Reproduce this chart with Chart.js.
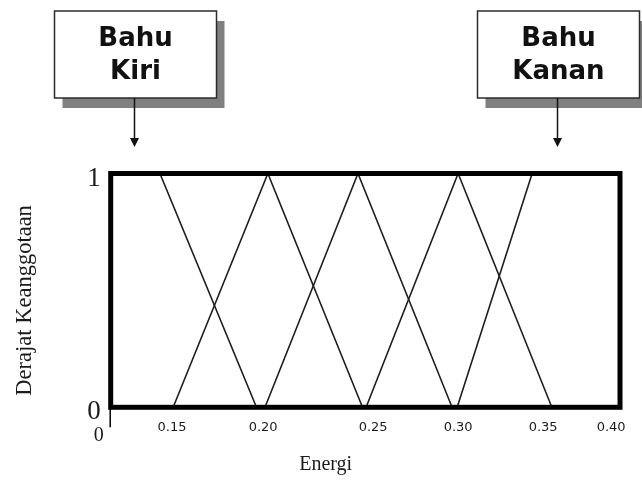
<!DOCTYPE html>
<html>
<head>
<meta charset="utf-8">
<script src="https://cdn.jsdelivr.net/npm/chart.js@4.4.0/dist/chart.umd.min.js"></script>
<style>
  html, body { margin: 0; padding: 0; background: #fff; }
</style>
</head>
<body>
<canvas id="fuzzyChart" width="642" height="480"></canvas>
<script>
// Energi axis limits (left and right edge of the frame)
const energiMin = 0.117;
const energiMax = 0.386;

// membership sets: energi points and membership degree
const kiriX = [0.117, 0.143, 0.194];
const kiriY = [1, 1, 0];
const set2X = [0.150, 0.200, 0.250];
const set2Y = [0, 1, 0];
const set3X = [0.1985, 0.2476, 0.2973];
const set3Y = [0, 1, 0];
const set4X = [0.2519, 0.3005, 0.350];
const set4Y = [0, 1, 0];
const kananX = [0.300, 0.3396, 0.386];
const kananY = [0, 1, 1];

// tick labels under the axis and where they sit
const tickValues = [0.1494, 0.1975, 0.2556, 0.3005, 0.3454, 0.3813];
const tickLabels = ['0.15', '0.20', '0.25', '0.30', '0.35', '0.40'];
const yTickValues = [0, 1];
const yTickLabels = ['0', '1'];

// shoulder callouts
const calloutText = [['Bahu', 'Kiri'], ['Bahu', 'Kanan']];
const calloutAt = [0.1293, 0.3528];

const serif = '"Liberation Serif", "Times New Roman", serif';
const sans = '"DejaVu Sans", Verdana, sans-serif';

const toPoints = (xs, ys) => xs.map((x, i) => ({ x: x, y: ys[i] }));

// frame, titles and callout boxes
const decorPlugin = {
    id: 'decor',
    afterDatasetsDraw(chart) {
        const { ctx, chartArea: a, scales: { x } } = chart;
        ctx.save();

        // thick frame
        ctx.strokeStyle = '#000';
        ctx.lineWidth = 5;
        ctx.strokeRect(a.left, a.top, a.right - a.left, a.bottom - a.top);

        // small stub of the y axis below the frame
        ctx.lineWidth = 1.5;
        ctx.beginPath();
        ctx.moveTo(a.left - 0.5, a.bottom);
        ctx.lineTo(a.left - 0.5, a.bottom + 20);
        ctx.stroke();

        // origin 0 on the energi axis
        ctx.fillStyle = '#1b1b1b';
        ctx.font = '20px ' + serif;
        ctx.textAlign = 'center';
        ctx.textBaseline = 'middle';
        ctx.fillText('0', a.left - 12, a.bottom + 28);

        // axis titles
        ctx.fillText('Energi', a.left + 215, 465);
        ctx.save();
        ctx.translate(25, (a.top + a.bottom) / 2 + 10);
        ctx.rotate(-Math.PI / 2);
        ctx.font = '22.5px ' + serif;
        ctx.fillText('Derajat Keanggotaan', 0, 0);
        ctx.restore();

        // callouts
        calloutAt.forEach((v, i) => {
            const ax = Math.round(x.getPixelForValue(v)) + 0.5;
            const w = 162, h = 87, top = 11;
            const left = Math.round(ax - w / 2) + 0.5;

            ctx.fillStyle = '#808080';
            ctx.fillRect(left + 8, top + 10, w, h);
            ctx.fillStyle = '#fff';
            ctx.fillRect(left, top, w, h);
            ctx.strokeStyle = '#2b2b2b';
            ctx.lineWidth = 1.5;
            ctx.strokeRect(left, top, w, h);

            ctx.fillStyle = '#111';
            ctx.font = 'bold 26px ' + sans;
            ctx.textAlign = 'center';
            ctx.textBaseline = 'middle';
            ctx.fillText(calloutText[i][0], left + w / 2, top + 28);
            ctx.fillText(calloutText[i][1], left + w / 2, top + 61);

            // arrow
            ctx.strokeStyle = '#111';
            ctx.lineWidth = 1.5;
            ctx.beginPath();
            ctx.moveTo(ax, top + h);
            ctx.lineTo(ax, 140);
            ctx.stroke();
            ctx.beginPath();
            ctx.moveTo(ax - 4.5, 138);
            ctx.lineTo(ax + 4.5, 138);
            ctx.lineTo(ax, 147);
            ctx.closePath();
            ctx.fill();
        });

        ctx.restore();
    }
};

const lineStyle = {
    showLine: true,
    borderColor: '#1e1e1e',
    borderWidth: 1.6,
    pointRadius: 0,
    pointHoverRadius: 0,
    fill: false
};

const ctx = document.getElementById('fuzzyChart').getContext('2d');
new Chart(ctx, {
    type: 'scatter',
    data: {
        datasets: [
            { label: 'Bahu Kiri', data: toPoints(kiriX, kiriY), ...lineStyle },
            { label: 'Set 2', data: toPoints(set2X, set2Y), ...lineStyle },
            { label: 'Set 3', data: toPoints(set3X, set3Y), ...lineStyle },
            { label: 'Set 4', data: toPoints(set4X, set4Y), ...lineStyle },
            { label: 'Bahu Kanan', data: toPoints(kananX, kananY), ...lineStyle }
        ]
    },
    options: {
        responsive: false,
        animation: false,
        devicePixelRatio: 1,
        layout: { padding: { top: 173.5, right: 22, left: 0, bottom: 0 } },
        plugins: {
            legend: { display: false },
            tooltip: { enabled: false }
        },
        scales: {
            x: {
                type: 'linear',
                min: energiMin,
                max: energiMax,
                grid: { display: false, drawTicks: false },
                border: { display: false },
                afterBuildTicks: axis => { axis.ticks = tickValues.map(v => ({ value: v })); },
                afterFit: axis => { axis.height = 72.7; },
                ticks: {
                    autoSkip: false,
                    maxRotation: 0,
                    padding: 13,
                    color: '#1b1b1b',
                    font: { family: sans, size: 13 },
                    callback: (v, i) => tickLabels[i]
                }
            },
            y: {
                type: 'linear',
                min: 0,
                max: 1,
                grid: { display: false, drawTicks: false },
                border: { display: false },
                afterBuildTicks: axis => { axis.ticks = yTickValues.map(v => ({ value: v })); },
                afterFit: axis => { axis.width = 110.7; },
                ticks: {
                    padding: 10,
                    labelOffset: 5,
                    color: '#1b1b1b',
                    font: { family: serif, size: 27 },
                    callback: (v, i) => yTickLabels[i]
                }
            }
        }
    },
    plugins: [decorPlugin]
});
</script>
</body>
</html>
